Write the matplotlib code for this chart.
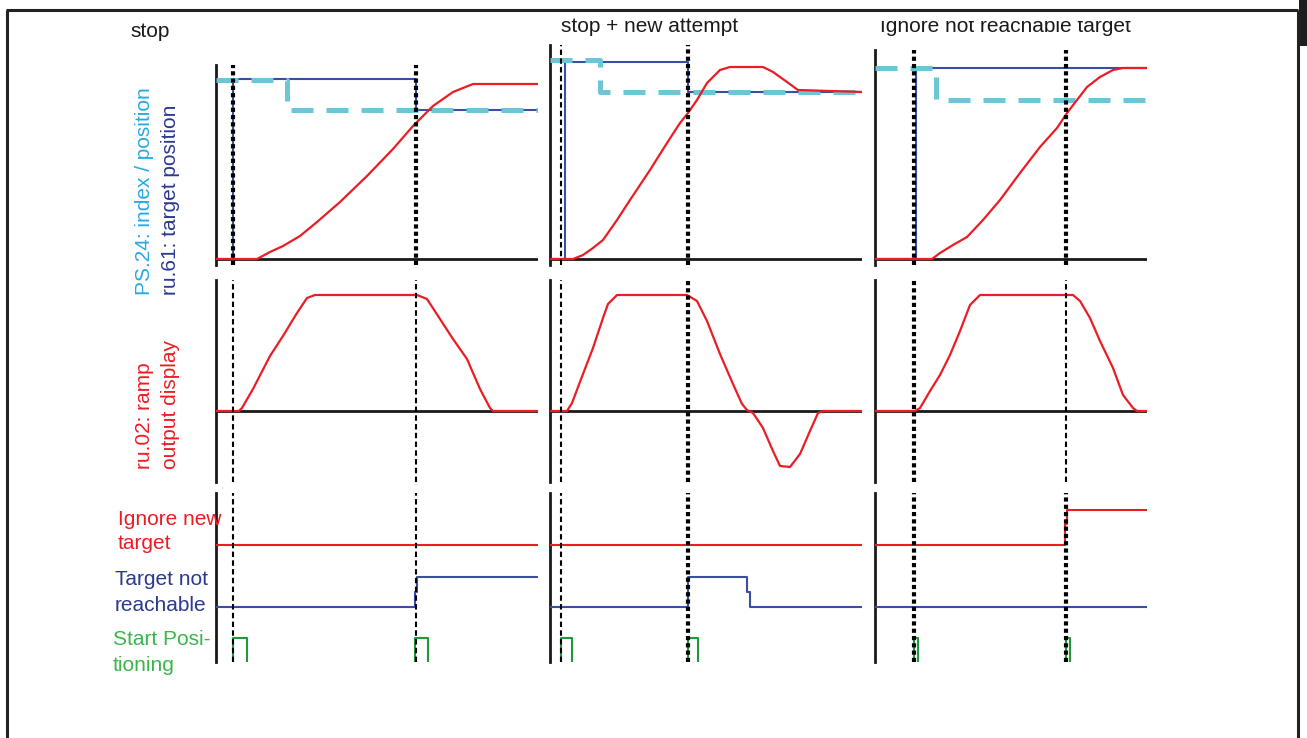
import matplotlib
matplotlib.use("Agg")
import matplotlib.pyplot as plt
from matplotlib.transforms import Bbox
from matplotlib.patches import Rectangle

# ---------------- data ----------------
titles = ["stop", "stop + new attempt", "Ignore not reachable target"]
t_end = [322, 312, 272]
t_event1 = [17, 11, 39]
t_event2 = [200, 138, 191]

# Column 1: stop
c1_pos_t = [0, 41, 54, 67, 84, 101, 124, 151, 177, 197, 217, 237, 257, 322]
c1_pos_v = [0, 0, 7, 13, 23, 37, 57, 83, 110, 133, 153, 167, 175, 175]
c1_target_t = [0, 17, 17, 200, 200, 322]
c1_target_v = [0, 0, 180, 180, 149, 149]
c1_index_t = [0, 71, 71, 322]
c1_index_v = [179, 179, 149, 149]
c1_ramp_t = [0, 23, 26, 37, 54, 67, 81, 91, 99, 201, 211, 224, 237, 251, 264, 274, 277, 322]
c1_ramp_v = [0, 0, 3, 22, 55, 75, 98, 113, 116, 116, 112, 92, 72, 52, 22, 3, 0, 0]
c1_ignore_t = [0, 322]
c1_ignore_s = [0, 0]
c1_notreach_t = [0, 199, 201, 322]
c1_notreach_s = [0, 0.5, 1, 1]
c1_start_t = [0, 17, 31, 199, 212, 322]
c1_start_s = [0, 1, 0, 1, 0, 0]

# Column 2: stop + new attempt
c2_pos_t = [0, 23, 33, 43, 53, 67, 80, 100, 117, 130, 138, 147, 157, 170, 180, 213, 223, 237, 248, 312]
c2_pos_v = [0, 0, 4, 11, 19, 39, 59, 89, 116, 136, 146, 159, 176, 189, 192, 192, 187, 177, 169, 167]
c2_target_t = [0, 15, 15, 138, 138, 312]
c2_target_v = [0, 0, 197, 197, 167, 167]
c2_index_t = [0, 50, 50, 312]
c2_index_v = [199, 199, 167, 167]
c2_ramp_t = [0, 17, 22, 33, 43, 53, 58, 67, 137, 147, 157, 170, 183, 192, 197, 203, 213, 223, 230, 240, 250, 260, 268, 273, 312]
c2_ramp_v = [0, 0, 8, 37, 63, 93, 107, 116, 116, 110, 90, 57, 27, 7, 1, -2, -17, -40, -55, -56, -43, -20, -2, 0, 0]
c2_ignore_t = [0, 312]
c2_ignore_s = [0, 0]
c2_notreach_t = [0, 138, 197, 200, 312]
c2_notreach_s = [0, 1, 0.5, 0, 0]
c2_start_t = [0, 11, 22, 138, 148, 312]
c2_start_s = [0, 1, 0, 1, 0, 0]

# Column 3: ignore not reachable target
c3_pos_t = [0, 57, 65, 78, 92, 108, 125, 145, 165, 182, 192, 202, 212, 225, 238, 248, 272]
c3_pos_v = [0, 0, 6, 14, 22, 39, 59, 86, 112, 131, 146, 159, 172, 182, 189, 191, 191]
c3_target_t = [0, 41, 41, 272]
c3_target_v = [0, 0, 191, 191]
c3_index_t = [0, 61, 61, 272]
c3_index_v = [191, 191, 159, 159]
c3_ramp_t = [0, 40, 45, 48, 55, 65, 75, 85, 95, 105, 198, 205, 215, 225, 238, 248, 258, 262, 272]
c3_ramp_v = [0, 0, 3, 8, 20, 36, 56, 80, 106, 116, 116, 110, 93, 70, 43, 16, 3, 0, 0]
c3_ignore_t = [0, 190, 192, 272]
c3_ignore_s = [0, 0.6, 1, 1]
c3_notreach_t = [0, 272]
c3_notreach_s = [0, 0]
c3_start_t = [0, 39, 43, 191, 195, 272]
c3_start_s = [0, 1, 0, 1, 0, 0]

left_labels = ["PS.24: index / position", "ru.61: target position",
               "ru.02: ramp", "output display"]
lane_labels = [["Ignore new", "target"], ["Target not", "reachable"],
               ["Start Posi-", "tioning"]]

columns = [
    dict(pos=(c1_pos_t, c1_pos_v), target=(c1_target_t, c1_target_v), index=(c1_index_t, c1_index_v),
         ramp=(c1_ramp_t, c1_ramp_v), ignore=(c1_ignore_t, c1_ignore_s),
         notreach=(c1_notreach_t, c1_notreach_s), start=(c1_start_t, c1_start_s)),
    dict(pos=(c2_pos_t, c2_pos_v), target=(c2_target_t, c2_target_v), index=(c2_index_t, c2_index_v),
         ramp=(c2_ramp_t, c2_ramp_v), ignore=(c2_ignore_t, c2_ignore_s),
         notreach=(c2_notreach_t, c2_notreach_s), start=(c2_start_t, c2_start_s)),
    dict(pos=(c3_pos_t, c3_pos_v), target=(c3_target_t, c3_target_v), index=(c3_index_t, c3_index_v),
         ramp=(c3_ramp_t, c3_ramp_v), ignore=(c3_ignore_t, c3_ignore_s),
         notreach=(c3_notreach_t, c3_notreach_s), start=(c3_start_t, c3_start_s)),
]

# ---------------- layout / style ----------------
W, H = 1307, 738
plt.rcParams['font.family'] = ['Liberation Sans', 'DejaVu Sans']
fig = plt.figure(figsize=(W / 100, H / 100), dpi=100)
fig.patch.set_facecolor('white')

RED = '#ec1c24'
BLUE = '#3a4fa0'
NAVY = '#2b3990'
CYAN = '#6cc6d6'
CYAN_TXT = '#27aae1'
GREEN_TXT = '#3ab54a'
GREEN = '#23973c'
BLACK = '#1a1a1a'

col_x = [(216, 538), (550, 862), (875, 1147)]
top_y = [(65, 265), (45, 265), (50, 265)]
mid_y = (280, 482)
bot_y = (493, 662)
top_base = 259   # pixel row of position zero
mid_zero = 411   # pixel row of ramp zero

# event line styles: per column, per panel (event1, event2)
ev_style = [
    dict(top=('thick', 'thick'), mid=('thin', 'thin'), bot=('thin', 'thin')),
    dict(top=('thin', 'thick'), mid=('thin', 'thick'), bot=('thin', 'thick')),
    dict(top=('thick', 'thick'), mid=('thick', 'thin'), bot=('thick', 'thick')),
]
STY = {
    'thick': dict(color='black', lw=3.0, linestyle=(0, (1.0, 0.75))),
    'thin': dict(color='black', lw=1.5, linestyle=(0, (2.6, 1.6))),
}

# lanes in the bottom panel: base level and amplitude
lanes = [('ignore', 117, 35, RED), ('notreach', 55, 30, BLUE), ('start', -4, 28, GREEN)]

# background axes for the frame
bg = fig.add_axes([0, 0, 1, 1], zorder=0)
bg.set_xlim(0, W)
bg.set_ylim(H, 0)
bg.axis('off')
bg.plot([7, 7], [10, H], color='#222222', lw=2.2, solid_capstyle='butt')
bg.plot([6, 1298], [10, 10], color='#222222', lw=2.2, solid_capstyle='butt')
bg.plot([1298, 1298], [10, H], color='#222222', lw=2.2, solid_capstyle='butt')
bg.add_patch(Rectangle((1299, 0), 8, 46, color='#1e1e1e', lw=0))


def make_ax(x0, x1, y0, y1):
    ax = fig.add_axes([x0 / W, 1 - y1 / H, (x1 - x0) / W, (y1 - y0) / H], zorder=2)
    ax.patch.set_alpha(0)
    for s in ['top', 'right', 'bottom']:
        ax.spines[s].set_visible(False)
    ax.spines['left'].set_linewidth(2.0)
    ax.spines['left'].set_color(BLACK)
    ax.set_xticks([])
    ax.set_yticks([])
    return ax


for ci, col in enumerate(columns):
    x0, x1 = col_x[ci]
    te = t_end[ci]
    evs = (t_event1[ci], t_event2[ci])

    # --- top: position ---
    ty0, ty1 = top_y[ci]
    ax = make_ax(x0, x1, ty0, ty1)
    ax.set_xlim(0, te)
    ax.set_ylim(-(ty1 - top_base), top_base - ty0)
    ax.axhline(0, color=BLACK, lw=2.0, zorder=1)
    ax.plot(*col['target'], color=BLUE, lw=1.5, zorder=2)
    ax.plot(*col['index'], color=CYAN, lw=3.6, linestyle=(0, (4.4, 2.6)), zorder=3)
    ax.plot(*col['pos'], color=RED, lw=1.6, zorder=4)
    for k, ev in enumerate(evs):
        ax.axvline(ev, zorder=5, **STY[ev_style[ci]['top'][k]])

    # --- middle: ramp output ---
    ax = make_ax(x0, x1, *mid_y)
    ax.set_xlim(0, te)
    ax.set_ylim(-(mid_y[1] - mid_zero), mid_zero - mid_y[0])
    ax.axhline(0, color=BLACK, lw=2.0, zorder=1)
    ax.plot(*col['ramp'], color=RED, lw=1.6, zorder=4)
    for k, ev in enumerate(evs):
        ax.axvline(ev, zorder=5, **STY[ev_style[ci]['mid'][k]])

    # --- bottom: digital signals ---
    ax = make_ax(x0, x1, *bot_y)
    ax.set_xlim(0, te)
    ax.set_ylim(0, bot_y[1] - bot_y[0])
    for (key, base, amp, colr) in lanes:
        tt, ss = col[key]
        ax.plot(tt, [base + amp * s for s in ss], drawstyle='steps-post',
                color=colr, lw=1.5, zorder=3)
    for k, ev in enumerate(evs):
        ax.axvline(ev, zorder=5, **STY[ev_style[ci]['bot'][k]])

# ---------------- texts ----------------
title_pos = [(130, 37), (561, 32), (880, 32)]
title_clip = [None, 17, 21]
for i, (tx, ty) in enumerate(title_pos):
    t = fig.text(tx / W, 1 - ty / H, titles[i], fontsize=15, color=BLACK,
                 ha='left', va='baseline', zorder=10)
    if title_clip[i] is not None:
        t.set_clip_box(Bbox.from_extents(0, 0, W, H - title_clip[i]))
        t.set_clip_on(True)

rot_specs = [(144, 295, left_labels[0], CYAN_TXT), (170, 295, left_labels[1], NAVY),
             (144, 469, left_labels[2], RED), (170, 469, left_labels[3], RED)]
for (tx, ty, s, c) in rot_specs:
    fig.text(tx / W, 1 - ty / H, s, rotation=90, fontsize=15, color=c,
             ha='center', va='bottom', zorder=10)

lane_text = [(118, 525, 549, RED), (115, 585, 611, NAVY), (113, 645, 671, GREEN_TXT)]
for (lbls, (tx, y1, y2, c)) in zip(lane_labels, lane_text):
    fig.text(tx / W, 1 - y1 / H, lbls[0], fontsize=15, color=c, ha='left', va='baseline', zorder=10)
    fig.text(tx / W, 1 - y2 / H, lbls[1], fontsize=15, color=c, ha='left', va='baseline', zorder=10)

fig.savefig('out.png', dpi=100, facecolor='white')
